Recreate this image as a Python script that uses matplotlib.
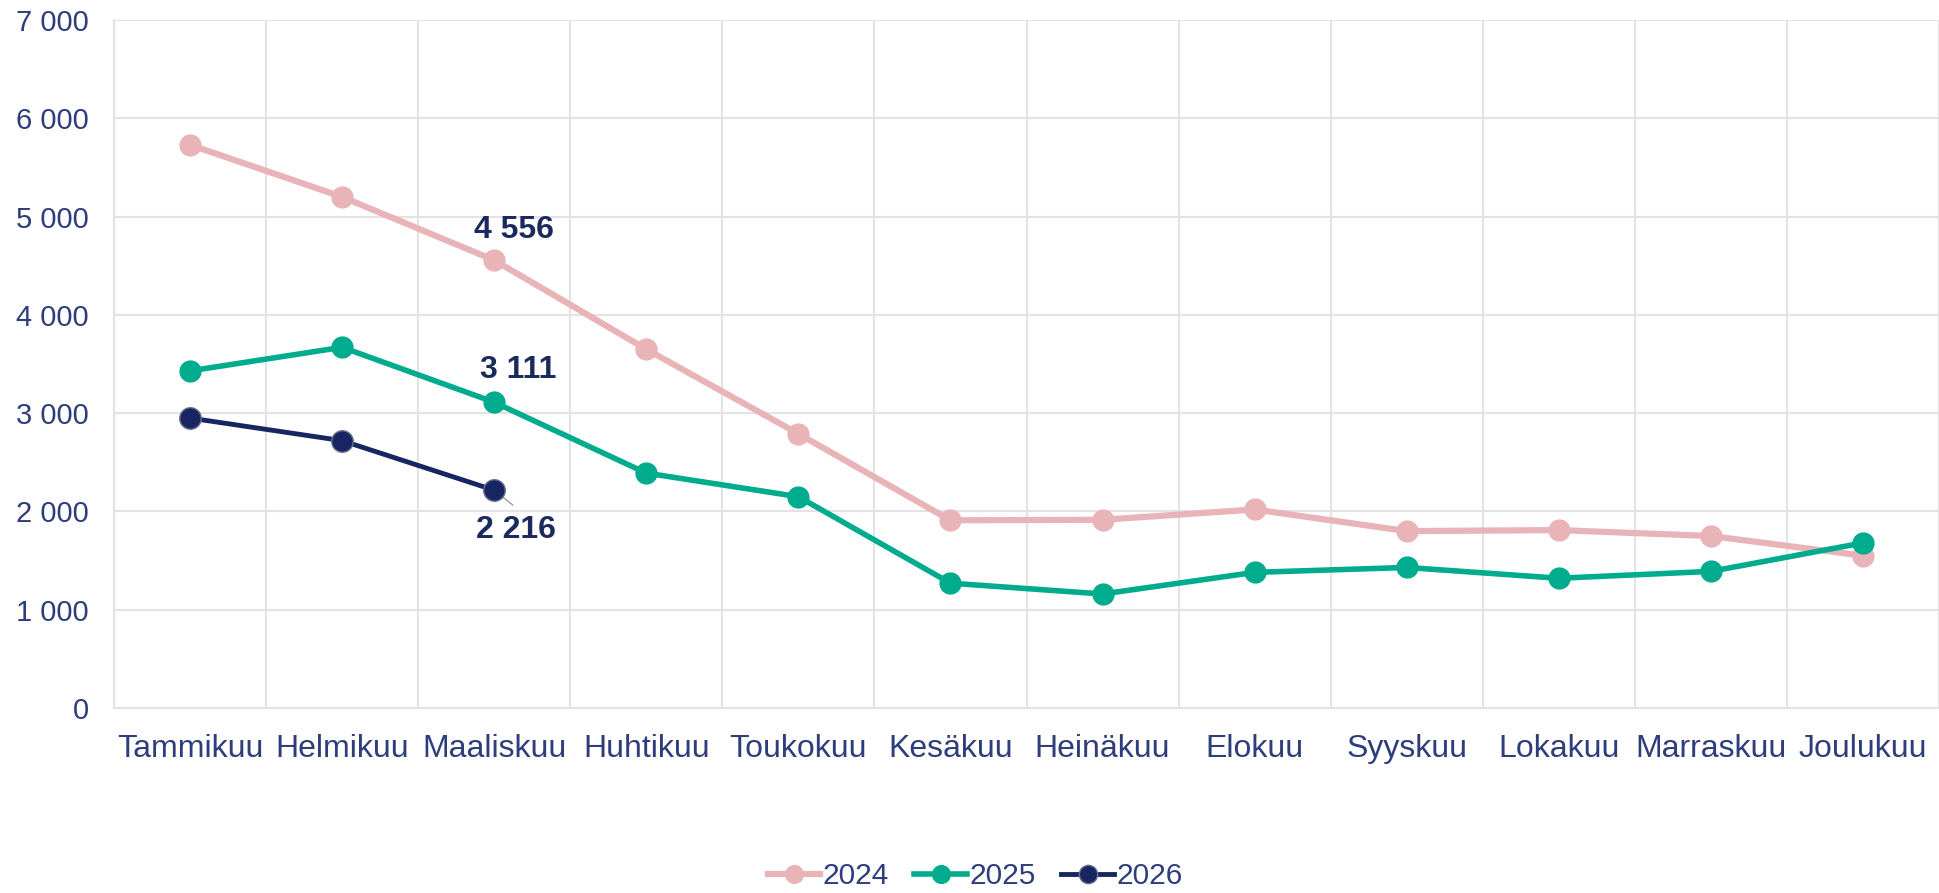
import matplotlib
matplotlib.use("Agg")
import matplotlib.pyplot as plt
from matplotlib.ticker import FuncFormatter, MultipleLocator

plt.rcParams['font.family'] = ['Liberation Sans', 'DejaVu Sans']

# data
months = ['Tammikuu', 'Helmikuu', 'Maaliskuu', 'Huhtikuu', 'Toukokuu', 'Kesäkuu',
          'Heinäkuu', 'Elokuu', 'Syyskuu', 'Lokakuu', 'Marraskuu', 'Joulukuu']
v2024 = [5730, 5200, 4556, 3650, 2790, 1910, 1915, 2020, 1800, 1810, 1750, 1550]
v2025 = [3430, 3670, 3111, 2390, 2150, 1270, 1160, 1380, 1430, 1320, 1390, 1680]
v2026 = [2950, 2720, 2216]

TICK_COL = '#2e3d7c'
LABEL_COL = '#1b2a5e'

fig = plt.figure(figsize=(19.39, 8.93), dpi=100)
ax = fig.add_axes([114 / 1939, 1 - 708 / 893, 1 - 114 / 1939, (708 - 20) / 893])

x = list(range(len(months)))
ax.plot(x, v2024, color='#e8b4b8', lw=4.5, marker='o', ms=15, label='2024', zorder=3)
ax.plot(x, v2025, color='#00ab8e', lw=4.0, marker='o', ms=15, label='2025', zorder=4)
ax.plot(x[:len(v2026)], v2026, color='#172663', lw=3.5, marker='o', ms=15.5,
        mec='#6b7190', mew=1.0, label='2026', zorder=5)

# data labels at Maaliskuu
i = 2
lab = dict(ha='center', va='center', fontsize=23, fontweight='bold', color=LABEL_COL,
           textcoords='offset points')
ax.annotate('4 556', (i, v2024[i]), xytext=(14, 22), **lab)
ax.annotate('3 111', (i, v2025[i]), xytext=(17.5, 23), **lab)
ax.annotate('2 216', (i, v2026[i]), xytext=(16, -29), **lab)
ax.annotate('', (i, v2026[i]), xytext=(15, -12), textcoords='offset points',
            arrowprops=dict(arrowstyle='-', color='#9a9a9a', lw=1.0))

ax.set_xlim(-0.5, 11.5 - 7 / 152.7)
ax.set_ylim(0, 7000)
ax.yaxis.set_major_locator(MultipleLocator(1000))
ax.yaxis.set_major_formatter(FuncFormatter(lambda v, p: f'{int(v):,}'.replace(',', ' ')))
ax.set_xticks(x)
ax.set_xticklabels(months)
ax.set_xticks([k - 0.5 for k in range(13)], minor=True)

ax.grid(True, which='major', axis='y', color='#e3e3e3', lw=1.5, zorder=0)
ax.grid(True, which='minor', axis='x', color='#e3e3e3', lw=1.5, zorder=0)
ax.tick_params(axis='both', which='both', length=0, labelcolor=TICK_COL)
ax.tick_params(axis='y', pad=18, labelsize=21)
ax.tick_params(axis='x', pad=19, labelsize=23)
for s in ['top', 'right']:
    ax.spines[s].set_visible(False)
ax.spines['left'].set_color('#e3e3e3')
ax.spines['bottom'].set_color('#e3e3e3')
ax.spines['left'].set_linewidth(1.5)
ax.spines['bottom'].set_linewidth(1.5)
ax.set_axisbelow(True)

leg = fig.legend(loc='lower center', bbox_to_anchor=(0.503, -0.027), ncol=3, frameon=False,
                 fontsize=21.5, handlelength=1.75, handletextpad=0.1, columnspacing=0.85,
                 markerscale=0.85)
for t in leg.get_texts():
    t.set_color(TICK_COL)

fig.savefig('out.png', dpi=100)
